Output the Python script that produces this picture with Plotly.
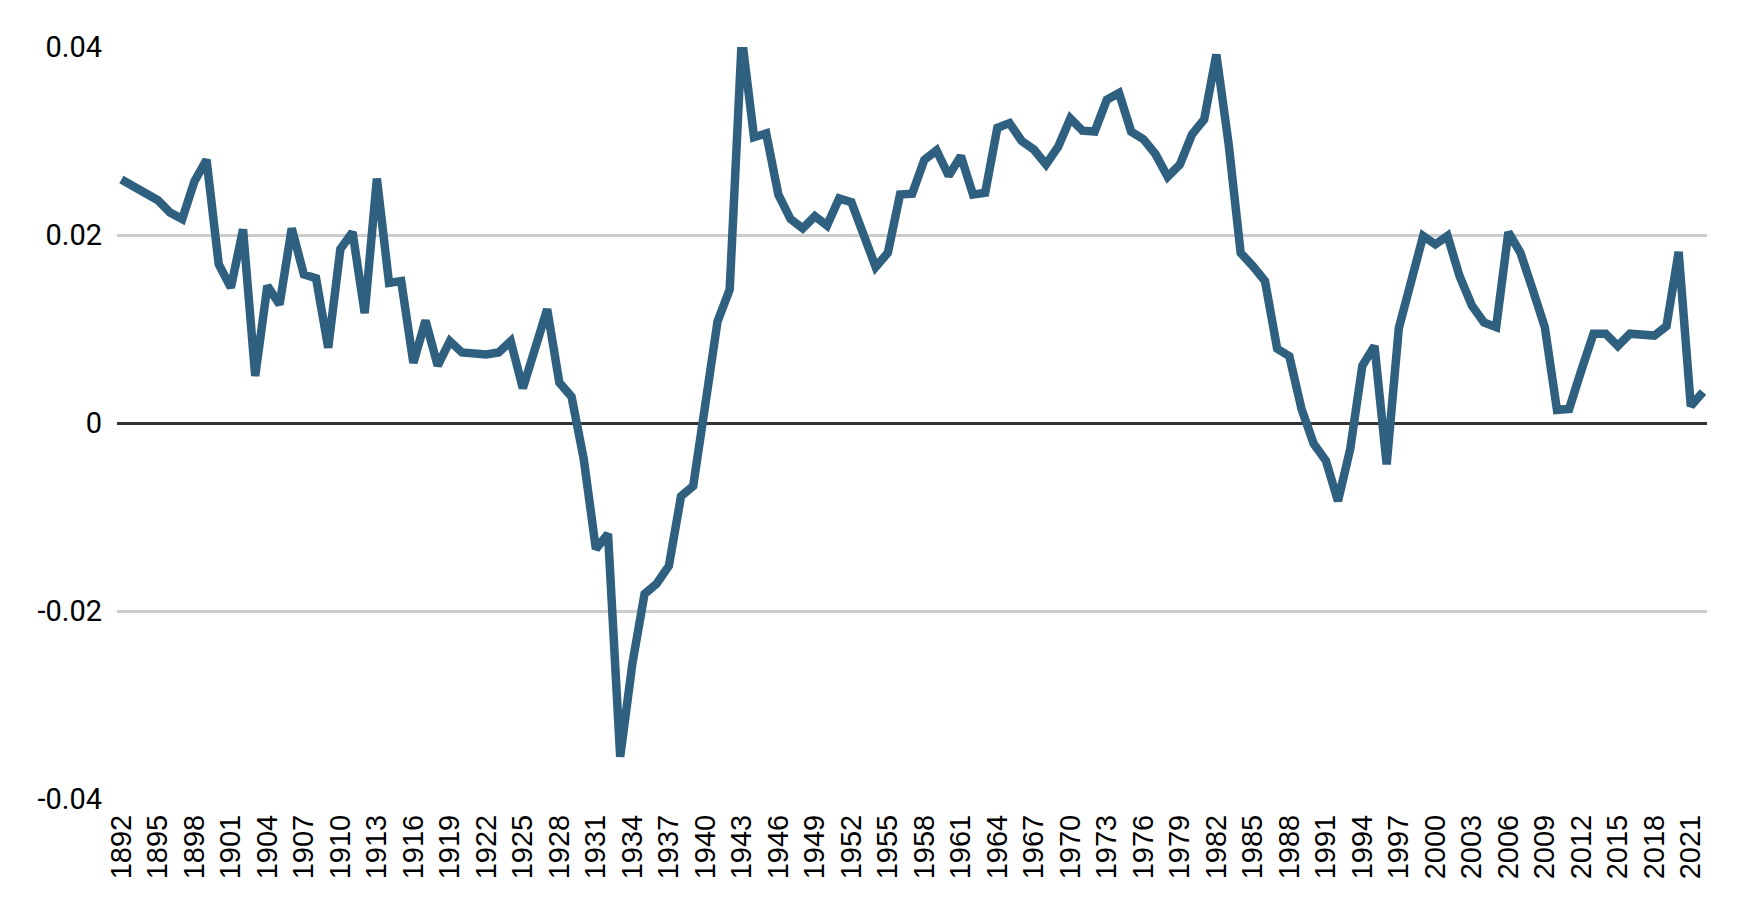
import plotly.graph_objects as go

years = list(range(1892, 2023))
values = [
    0.0259, 0.0251, 0.0244, 0.0237, 0.0224, 0.0217, 0.0257, 0.0280, 0.0169, 0.0144,  # 1892-1901
    0.0206, 0.0050, 0.0146, 0.0126, 0.0207, 0.0158, 0.0154, 0.0080, 0.0185, 0.0203,  # 1902-1911
    0.0117, 0.0260, 0.0149, 0.0151, 0.0064, 0.0109, 0.0061, 0.0087, 0.0075, 0.0074,  # 1912-1921
    0.0073, 0.0075, 0.0087, 0.0037, 0.0083, 0.0121, 0.0043, 0.0028, -0.0038, -0.0134,  # 1922-1931
    -0.0118, -0.0355, -0.0256, -0.0182, -0.0171, -0.0152, -0.0078, -0.0067, 0.0020, 0.0108,  # 1932-1941
    0.0142, 0.0410, 0.0304, 0.0308, 0.0243, 0.0217, 0.0207, 0.0220, 0.0210, 0.0239,  # 1942-1951
    0.0235, 0.0203, 0.0166, 0.0181, 0.0243, 0.0244, 0.0280, 0.0290, 0.0263, 0.0284,  # 1952-1961
    0.0243, 0.0245, 0.0314, 0.0319, 0.0300, 0.0291, 0.0275, 0.0294, 0.0324, 0.0311,  # 1962-1971
    0.0310, 0.0344, 0.0351, 0.0310, 0.0302, 0.0286, 0.0262, 0.0275, 0.0307, 0.0323,  # 1972-1981
    0.0392, 0.0298, 0.0181, 0.0167, 0.0151, 0.0079, 0.0071, 0.0015, -0.0022, -0.0040,  # 1982-1991
    -0.0083, -0.0028, 0.0061, 0.0082, -0.0044, 0.0101, 0.0149, 0.0199, 0.0190, 0.0199,  # 1992-2001
    0.0156, 0.0125, 0.0107, 0.0102, 0.0203, 0.0181, 0.0142, 0.0102, 0.0014, 0.0015,  # 2002-2011
    0.0056, 0.0095, 0.0095, 0.0082, 0.0095, 0.0093, 0.0093, 0.0103, 0.0182, 0.0018,  # 2012-2021
    0.0033,  # 2022
]

x_tickvals = years[::3]
x_ticktext = [str(y) for y in x_tickvals]
y_tickvals = [0.04, 0.02, 0, -0.02, -0.04]
y_ticktext = ["0.04", "0.02", "0", "-0.02", "-0.04"]

fig = go.Figure()
fig.add_trace(go.Scatter(
    x=years, y=values, mode="lines",
    line=dict(color="#2f6080", width=8.5),
    hoverinfo="x+y",
))

# page body adds an 8px margin, so the figure is 16px smaller than the window
fig.update_layout(
    width=1732, height=908,
    margin=dict(l=109, r=33, t=39, b=117),
    paper_bgcolor="white", plot_bgcolor="white",
    showlegend=False,
)
fig.update_xaxes(
    range=[1891.64, 2022.33],
    tickmode="array", tickvals=x_tickvals, ticktext=x_ticktext,
    tickangle=-90,
    tickfont=dict(family="Liberation Sans, Arial", size=29, color="black"),
    showgrid=False, zeroline=False, showline=False,
    ticks="", ticklabelstandoff=9,
)
fig.update_yaxes(
    range=[-0.04, 0.04],
    tickmode="array", tickvals=y_tickvals, ticktext=y_ticktext,
    tickfont=dict(family="Roboto", size=29, color="black"),
    showgrid=True, gridcolor="#cccccc", gridwidth=3,
    zeroline=True, zerolinecolor="#333333", zerolinewidth=3,
    showline=False, ticks="", ticklabelstandoff=14,
)

fig.write_html("out.html")
